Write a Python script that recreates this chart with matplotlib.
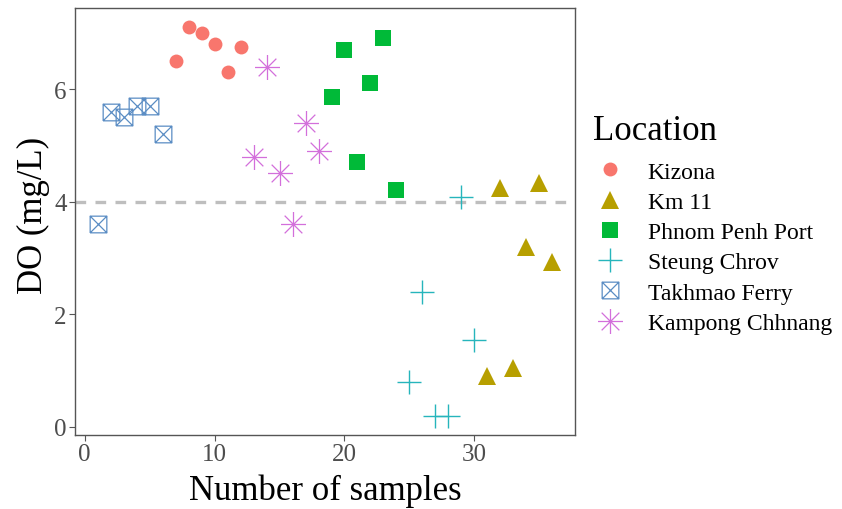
import numpy as np
import matplotlib
matplotlib.use("Agg")
import matplotlib.pyplot as plt
from matplotlib.path import Path
from matplotlib.lines import Line2D

plt.rcParams['font.family'] = ['Liberation Serif', 'DejaVu Serif']

# data
kizona_x = [7, 8, 9, 10, 11, 12]
kizona_y = [6.5, 7.1, 7.0, 6.8, 6.3, 6.75]
km11_x = [31, 32, 33, 34, 35, 36]
km11_y = [0.9, 4.25, 1.05, 3.2, 4.33, 2.92]
pp_port_x = [19, 20, 21, 22, 23, 24]
pp_port_y = [5.85, 6.7, 4.7, 6.1, 6.9, 4.2]
steung_x = [25, 26, 27, 28, 29, 30]
steung_y = [0.8, 2.4, 0.2, 0.2, 4.08, 1.55]
takhmao_x = [1, 2, 3, 4, 5, 6]
takhmao_y = [3.6, 5.6, 5.5, 5.7, 5.7, 5.2]
kampong_x = [13, 14, 15, 16, 17, 18]
kampong_y = [4.8, 6.4, 4.5, 3.6, 5.4, 4.9]
threshold = 4

# custom markers: boxed X and 8-arm asterisk
boxx = Path([(-1, -1), (1, -1), (1, 1), (-1, 1), (-1, -1), (-1, -1), (1, 1), (-1, 1), (1, -1)],
            [Path.MOVETO, Path.LINETO, Path.LINETO, Path.LINETO, Path.LINETO,
             Path.MOVETO, Path.LINETO, Path.MOVETO, Path.LINETO])
d = 0.7071
star = Path([(-1, 0), (1, 0), (0, -1), (0, 1), (-d, -d), (d, d), (-d, d), (d, -d)],
            [Path.MOVETO, Path.LINETO] * 4)

series = [
    ("Kizona", kizona_x, kizona_y, dict(marker='o', color='#F8766D', ms=10, mew=0)),
    ("Km 11", km11_x, km11_y, dict(marker='^', color='#B79F00', ms=13, mew=0)),
    ("Phnom Penh Port", pp_port_x, pp_port_y, dict(marker='s', color='#00BA38', ms=11.5, mew=0)),
    ("Steung Chrov", steung_x, steung_y, dict(marker='+', color='#26B5BC', ms=17, mew=1.0)),
    ("Takhmao Ferry", takhmao_x, takhmao_y, dict(marker=boxx, color='#5B8DC4', ms=12, mew=0.9, mfc='none')),
    ("Kampong Chhnang", kampong_x, kampong_y, dict(marker=star, color='#D36FDB', ms=18, mew=0.9, mfc='none')),
]

fig = plt.figure(figsize=(8.42, 5.1), dpi=100)
ax = fig.add_axes([0.089, 0.145, 0.594, 0.838])

ax.axhline(threshold, color='#BEBEBE', lw=2.4, ls=(0, (3.2, 2.8)), zorder=1)

handles = []
for name, xs, ys, st in series:
    ax.plot(xs, ys, ls='none', zorder=3, **st)
    handles.append(Line2D([], [], ls='none', **st))

ax.set_xlim(-0.75, 37.75)
ax.set_ylim(-0.145, 7.445)
ax.set_xticks([0, 10, 20, 30])
ax.set_yticks([0, 2, 4, 6])
for s in ax.spines.values():
    s.set_color('#555555')
    s.set_linewidth(1.0)
ax.tick_params(labelsize=18, colors='#555555', labelcolor='#4D4D4D', length=4, width=0.8, pad=2)
ax.set_xlabel("Number of samples", fontsize=25, labelpad=6)
ax.set_ylabel("DO (mg/L)", fontsize=25)
ax.yaxis.set_label_coords(-0.05, 0.517)

fig.text(593 / 842, 1 - 131 / 510, "Location", fontsize=25, ha='left', va='center')
fig.legend(handles, [s[0] for s in series], loc='upper left',
           bbox_to_anchor=(0.702, 0.682), frameon=False, fontsize=17,
           labelspacing=0.37, handletextpad=0.8, handlelength=1.6,
           borderaxespad=0, borderpad=0)

fig.savefig("out.png", dpi=100)
